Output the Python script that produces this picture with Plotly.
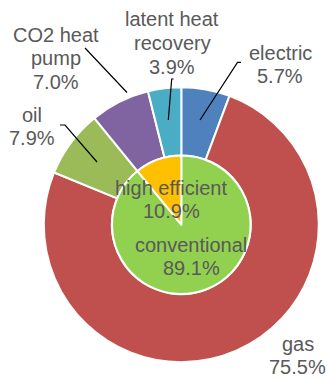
import plotly.graph_objects as go

# Heating systems: outer ring by energy source, inner pie by efficiency class
outer_labels = ["electric", "gas", "oil", "CO2 heat pump", "latent heat recovery"]
outer_values = [5.7, 75.5, 7.9, 7.0, 3.9]
outer_colors = ["#4F81BD", "#C0504D", "#9BBB59", "#8064A2", "#4BACC6"]

inner_labels = ["conventional", "high efficient"]
inner_values = [89.1, 10.9]
inner_colors = ["#92D050", "#FFC000"]

W, H = 328, 380
TEXT_COLOR = "#595959"
FONT = "Liberation Sans, Arial, sans-serif"
FONT_SIZE = 20
LINE_GAP = 23.5


def px(x, y):
    """Pixel position (from top-left) to paper coordinates."""
    return x / W, 1 - y / H


# ring geometry in pixels
cx, cy = 181.3, 224.7
R_out, R_in = 137.5, 69.3

fig = go.Figure()

fig.add_trace(go.Pie(
    labels=outer_labels, values=outer_values,
    marker=dict(colors=outer_colors, line=dict(color="white", width=2)),
    sort=False, direction="clockwise", rotation=0,
    hole=R_in / R_out, textinfo="none", hoverinfo="label+percent",
    domain=dict(x=[(cx - R_out) / W, (cx + R_out) / W],
                y=[(H - cy - R_out) / H, (H - cy + R_out) / H]),
    showlegend=False,
))

fig.add_trace(go.Pie(
    labels=inner_labels, values=inner_values,
    marker=dict(colors=inner_colors, line=dict(color="white", width=2)),
    sort=False, direction="clockwise", rotation=0,
    textinfo="none", hoverinfo="label+percent",
    domain=dict(x=[(cx - R_in) / W, (cx + R_in) / W],
                y=[(H - cy - R_in) / H, (H - cy + R_in) / H]),
    showlegend=False,
))

# label text: display lines, value, and label-block centre (px)
label_specs = [
    (["electric"], outer_values[0], (280, 64.5)),
    (["gas"], outer_values[1], (297.5, 355.5)),
    (["oil"], outer_values[2], (31.5, 126.5)),
    (["CO2 heat", "pump"], outer_values[3], (55.7, 58.5)),
    (["latent heat", "recovery"], outer_values[4], (172, 43)),
    (["conventional"], inner_values[0], (191, 256.5)),
    (["high efficient"], inner_values[1], (171, 199.7)),
]

annotations = []
for name_lines, val, (x, y) in label_specs:
    lines = name_lines + [f"{val:.1f}%"]
    top = y - LINE_GAP * (len(lines) - 1) / 2
    for i, line in enumerate(lines):
        ax, ay = px(x, top + i * LINE_GAP)
        annotations.append(dict(
            x=ax, y=ay, xref="paper", yref="paper",
            text=line, showarrow=False, borderpad=0,
            xanchor="center", yanchor="middle", align="center",
            font=dict(family=FONT, size=FONT_SIZE, color=TEXT_COLOR),
        ))

# leader lines from slices to their labels (px)
leaders = [
    [(200, 120), (237.5, 62.3), (241, 62.3)],      # electric
    [(168.3, 120), (171.7, 79), (173.5, 79)],      # latent heat recovery
    [(127, 92.5), (85, 48)],                       # CO2 heat pump
    [(97, 162), (65, 125), (60, 125)],             # oil
]
shapes = []
for pts in leaders:
    path = ""
    for i, (x, y) in enumerate(pts):
        xp, yp = px(x, y)
        path += ("M" if i == 0 else " L") + f" {xp:.5f} {yp:.5f}"
    shapes.append(dict(type="path", path=path, xref="paper", yref="paper",
                       line=dict(color="black", width=1.2)))

fig.update_layout(
    width=W, height=H,
    margin=dict(l=0, r=0, t=0, b=0),
    paper_bgcolor="white", plot_bgcolor="white",
    annotations=annotations, shapes=shapes,
)

fig.write_html("out.html")
